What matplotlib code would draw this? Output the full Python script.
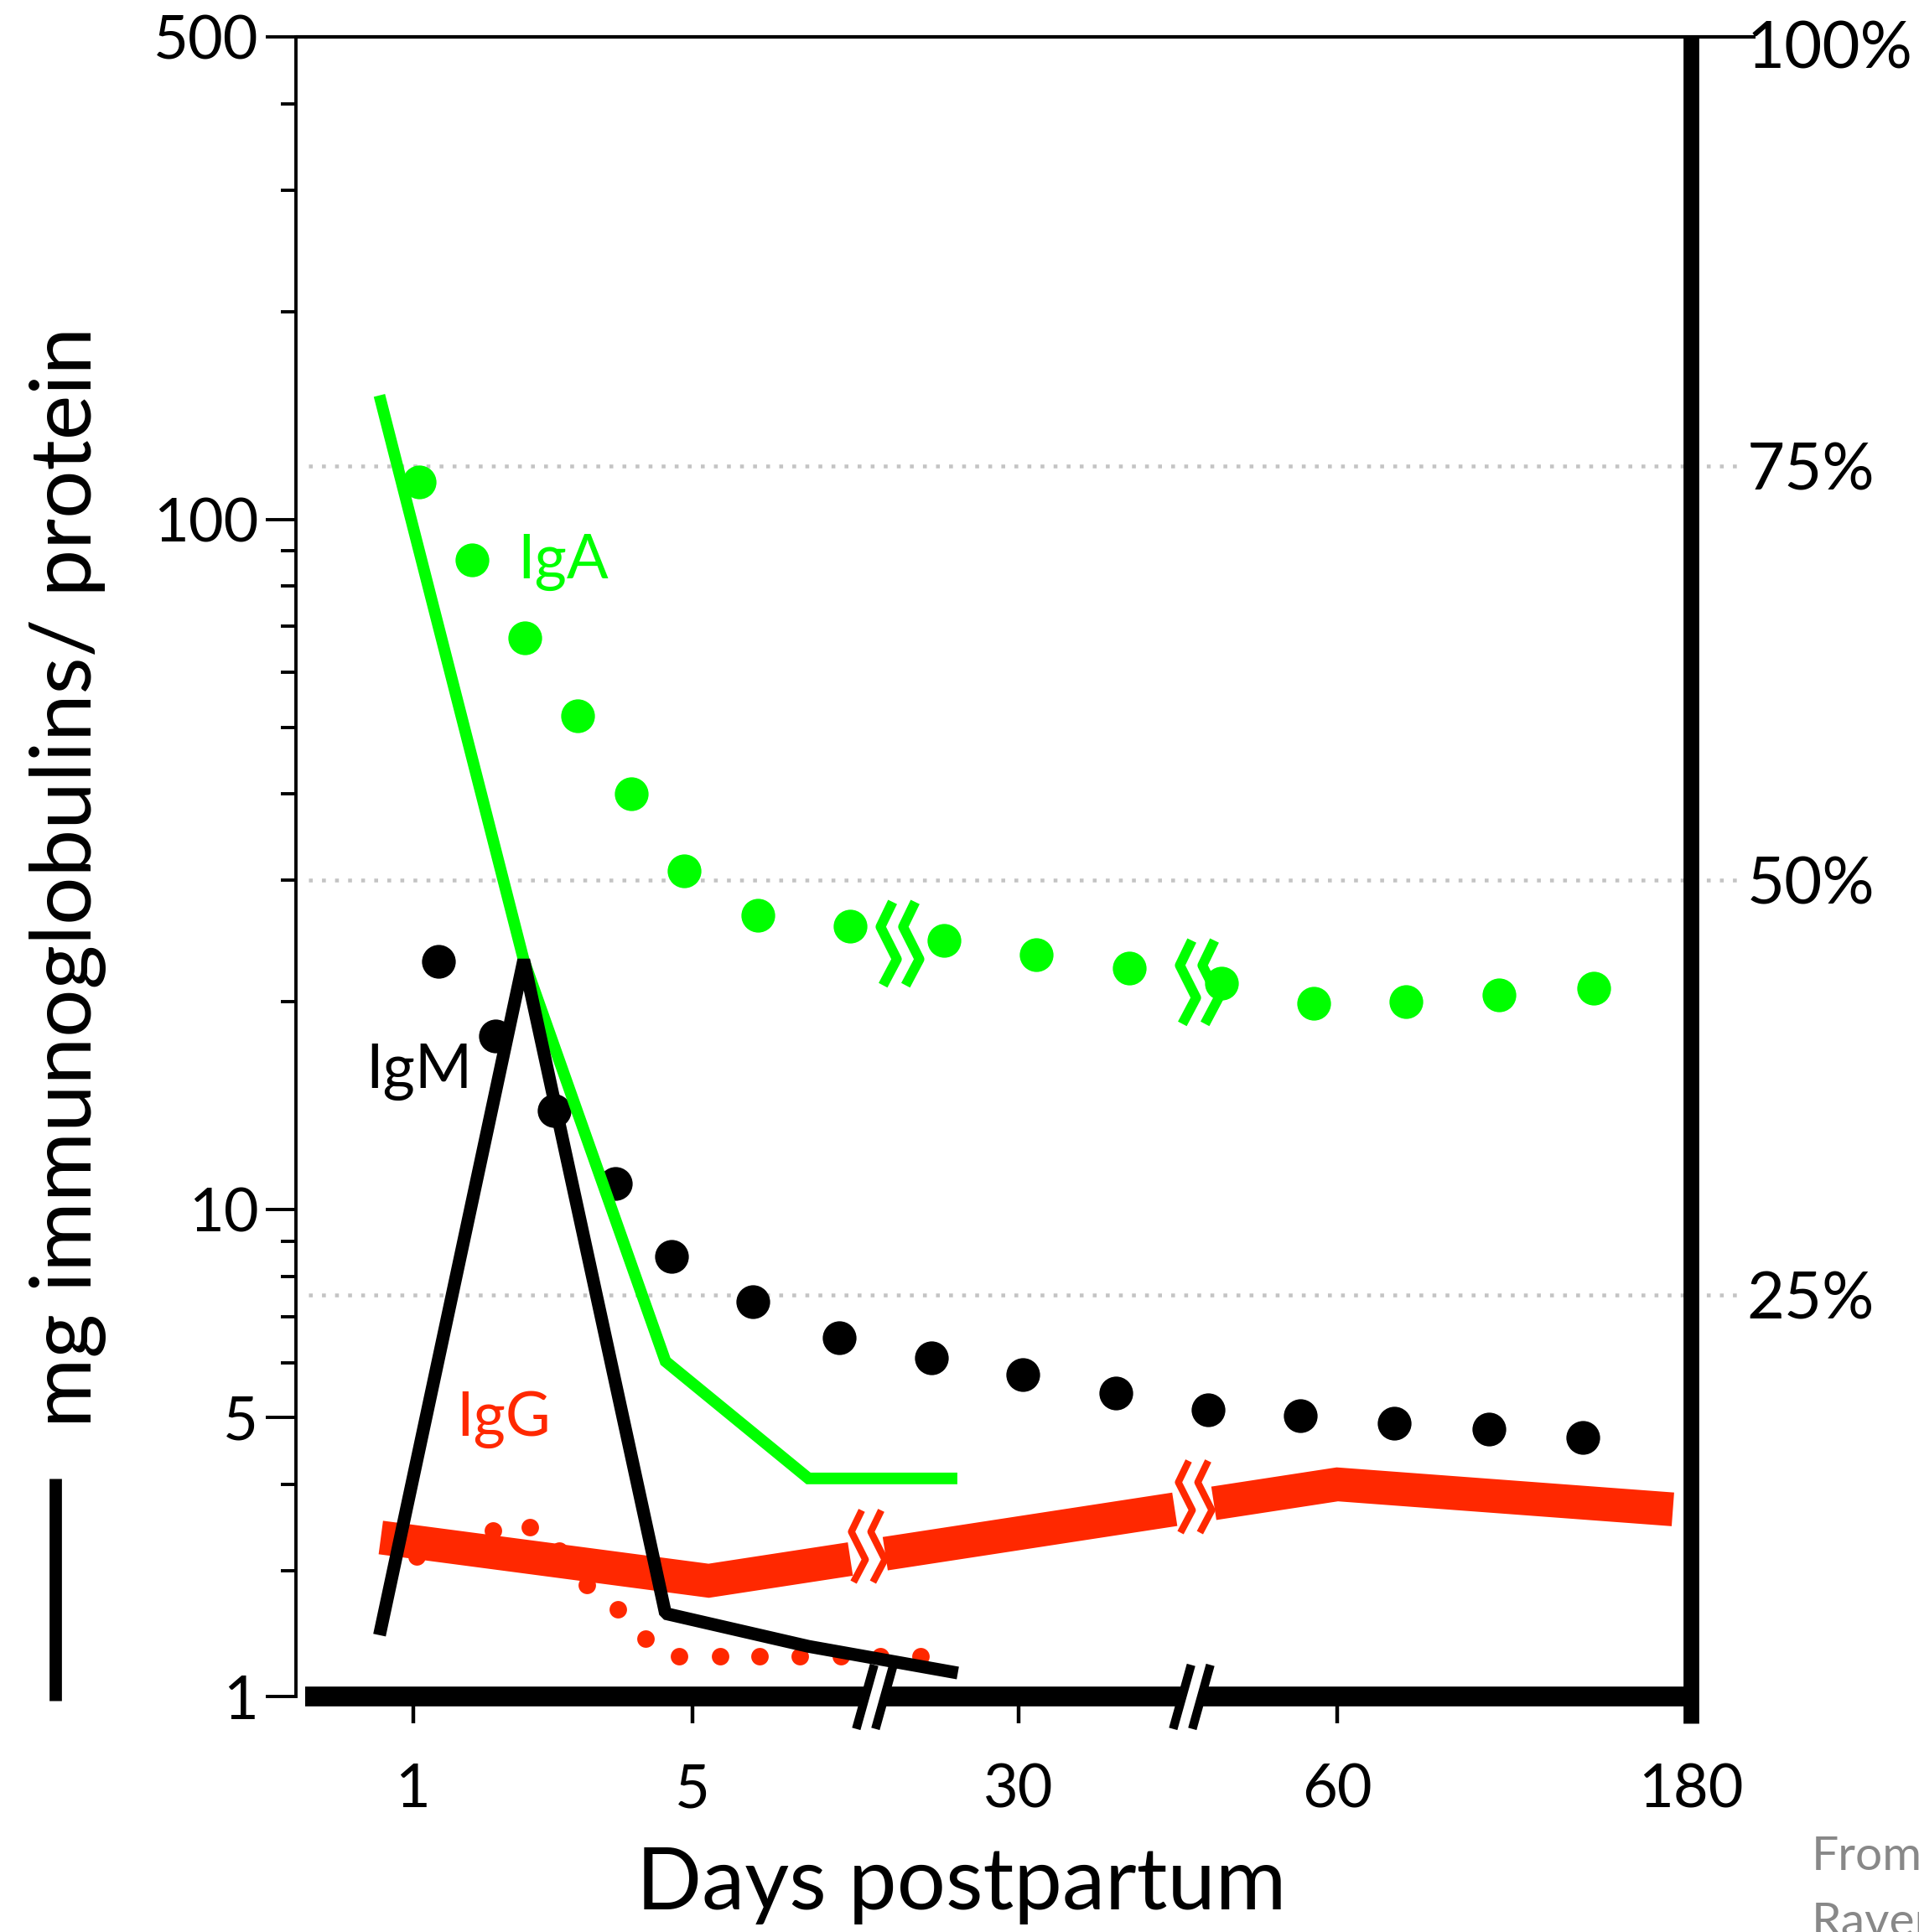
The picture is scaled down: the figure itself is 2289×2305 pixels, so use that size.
import numpy as np
import matplotlib.pyplot as plt
from matplotlib.path import Path

plt.rcParams['font.family'] = ['Lato', 'DejaVu Sans']

GREEN = '#00ff00'
RED = '#ff2800'
GRID = '#c4c4c4'

# the day axis is broken (1..5, 30, 60, 180), so x is a position along it (0..100)
day_ticks = [8.4, 28.45, 51.8, 74.65, 100.0]
day_labels = ['1', '5', '30', '60', '180']
axis_breaks = [41.5, 64.2]

# left axis is log; its bottom tick is drawn at 1.97 but labelled "1"
y_bottom = 1.97
y_ticks = [y_bottom, 5, 10, 100, 500]
y_labels = ['1', '5', '10', '100', '500']
y_minor = [3, 4, 6, 7, 8, 9, 20, 30, 40, 50, 60, 70, 80, 90, 200, 300, 400]

pct_ticks = [25, 50, 75, 100.4]
pct_labels = ['25%', '50%', '75%', '100%']
pct_grid = [25, 50, 75]

# lines: mg immunoglobulins / protein (left axis)
line_x = [6.1, 16.34, 26.5, 36.75, 47.0]
iga_mg = [148.4, 23.0, 6.03, 4.08, 4.08]
igm_mg = [2.47, 23.0, 2.60, 2.33, 2.14]
igg_x = [6.1, 29.6, 74.65, 98.7]
igg_mg = [3.35, 2.90, 4.0, 3.68]
igg_gaps = [(39.75, 42.25), (63.0, 65.8)]

# dots: percent of protein (right axis)
iga_x = [8.83, 12.63, 16.43, 20.23, 24.03, 27.83, 33.13, 39.75, 46.47, 53.09,
         59.72, 66.34, 72.97, 79.59, 86.22, 93.02]
iga_pct = [74.0, 69.3, 64.6, 59.9, 55.2, 50.55, 47.9, 47.25, 46.4, 45.5,
           44.7, 43.8, 42.6, 42.7, 43.1, 43.5]
igm_x = [10.25, 14.31, 18.55, 22.88, 26.94, 32.77, 38.96, 45.58, 52.12, 58.75,
         65.37, 72.0, 78.71, 85.51, 92.23]
igm_pct = [45.1, 40.6, 36.1, 31.7, 27.3, 24.6, 22.4, 21.2, 20.2, 19.1,
           18.1, 17.7, 17.25, 16.9, 16.4]
igg_dot_x = [8.66, 14.13, 16.78, 18.9, 20.85, 23.06, 25.09, 27.47, 30.39, 33.22,
             36.13, 39.05, 41.87, 44.79]
igg_pct = [9.25, 10.8, 11.0, 9.6, 7.5, 6.05, 4.3, 3.2, 3.2, 3.2, 3.2, 3.2, 3.2, 3.2]
iga_dot_breaks = [(43.3, 46.2), (64.75, 43.9)]

labels = [('IgA', 15.9, 86.6, GREEN), ('IgM', 5.04, 15.85, 'black'), ('IgG', 11.5, 4.97, RED)]

# zigzag break symbol (two strokes) and the slanted "//" for the axis
zz = np.array([(-5.9, 33), (-15.5, 13.2), (-2.5, -12.6), (-13.5, -33.4)])
zz_verts = np.vstack([zz, zz + (18, 0)])
zz_codes = [Path.MOVETO, Path.LINETO, Path.LINETO, Path.LINETO] * 2
zigzag = Path(zz_verts, zz_codes)
slash = Path([(-14.5, -25), (-0.5, 25), (0.5, -25), (14.5, 25)],
             [Path.MOVETO, Path.LINETO, Path.MOVETO, Path.LINETO])
slash_gap = Path([(-7, -25), (7, 25), (25, 25)], [Path.MOVETO, Path.LINETO, Path.MOVETO])

fig = plt.figure(figsize=(22.89, 23.05), dpi=100)
ax = fig.add_axes([0.1541, 0.1218, 0.7271, 0.8591])
ax2 = ax.twinx()
ax.set_zorder(ax2.get_zorder() + 1)
ax.patch.set_visible(False)

ax.set_xlim(0, 100)
ax.set_yscale('log')
ax.set_ylim(y_bottom, 500)
ax2.set_ylim(0.78, 100.85)

for s in ['top', 'right', 'bottom']:
    ax.spines[s].set_visible(False)
    ax2.spines[s].set_visible(False)
ax2.spines['left'].set_visible(False)
ax.spines['left'].set_linewidth(2.8)

ax.set_yticks(y_ticks, y_labels)
ax.set_yticks(y_minor, minor=True)
ax.yaxis.set_minor_formatter(plt.NullFormatter())
ax.tick_params(axis='y', which='major', length=26, width=2.8, labelsize=52, pad=6)
ax.tick_params(axis='y', which='minor', length=13, width=2.8)
ax.set_xticks(day_ticks, day_labels)
ax.tick_params(axis='x', length=23, width=3.2, labelsize=52, pad=34)

ax2.set_yticks(pct_ticks, pct_labels)
ax2.tick_params(axis='y', length=0, labelsize=56, pad=48)

# frame pieces
ax.plot([0, 1.046], [1, 1], transform=ax.transAxes, color='black', lw=3, clip_on=False,
        solid_capstyle='butt')
ax.plot([1, 1], [1, -0.016], transform=ax.transAxes, color='black', lw=13.5,
        clip_on=False, solid_capstyle='butt', zorder=6)
ax.plot([0.007, 1], [0, 0], transform=ax.transAxes, color='black', lw=17,
        clip_on=False, solid_capstyle='butt', zorder=2)
bx = ax.get_xaxis_transform()
ax.plot(axis_breaks, [0] * len(axis_breaks), transform=bx, ls='none', marker=slash_gap,
        ms=55, mew=17, mec='white', clip_on=False, zorder=2.2)
ax.plot(axis_breaks, [0] * len(axis_breaks), transform=bx, ls='none', marker=slash,
        ms=55, mew=7.5, mec='black', clip_on=False, zorder=2.3)

# dotted guides for the percent axis
gt = ax2.get_yaxis_transform()
for p in pct_grid:
    ax2.plot([0.009, 1.038], [p, p], transform=gt, color=GRID, lw=3.3,
             dashes=(1, 2.4), clip_on=False, zorder=0.5)

# percent dots
ax2.plot(igg_dot_x, igg_pct, 'o', color=RED, ms=15, mec='none')
ax2.plot(igm_x, igm_pct, 'o', color='black', ms=29, mec='none')
ax2.plot(iga_x, iga_pct, 'o', color=GREEN, ms=29, mec='none')
bx_, by_ = zip(*iga_dot_breaks)
ax2.plot(bx_, by_, ls='none', marker=zigzag, ms=72, mew=8.5, mec=GREEN, mfc='none')

# IgG band with gaps
log_igg = np.log10(igg_mg)
edges = [igg_x[0]]
for a, b in igg_gaps:
    edges += [a, b]
edges.append(igg_x[-1])
for i in range(0, len(edges), 2):
    x0, x1 = edges[i], edges[i + 1]
    xs = [x0] + [x for x in igg_x if x0 < x < x1] + [x1]
    ys = 10 ** np.interp(xs, igg_x, log_igg)
    ax.plot(xs, ys, color=RED, lw=29, solid_capstyle='butt', solid_joinstyle='miter', zorder=3)
gx = [(a + b) / 2 for a, b in igg_gaps]
gy = 10 ** (np.interp(gx, igg_x, log_igg) + 0.015)
ax.plot(gx, gy, ls='none', marker=zigzag, ms=62, mew=6, mec=RED, mfc='none', zorder=3)

ax.plot(line_x, iga_mg, color=GREEN, lw=10, solid_joinstyle='miter', zorder=4)
ax.plot(line_x, igm_mg, color='black', lw=11, solid_joinstyle='bevel', zorder=5)

for txt, x, y, c in labels:
    ax.text(x, y, txt, color=c, fontsize=53, ha='left', va='center', zorder=7)

fig.text(0.0353, 0.546, 'mg immunoglobulins/ protein', rotation=90, fontsize=73,
         ha='center', va='center')
fig.add_artist(plt.Line2D([0.0289, 0.0289], [0.1199, 0.2347], color='black', lw=10.6,
                          solid_capstyle='butt'))
fig.text(0.501, 0.0115, 'Days postpartum', fontsize=74, ha='center', va='baseline')
fig.text(0.944, 0.032, 'From', fontsize=41, color='#888888', ha='left', va='baseline')
fig.text(0.944, -0.002, 'Raven', fontsize=41, color='#888888', ha='left', va='baseline')

fig.savefig('out.png', dpi=100)
